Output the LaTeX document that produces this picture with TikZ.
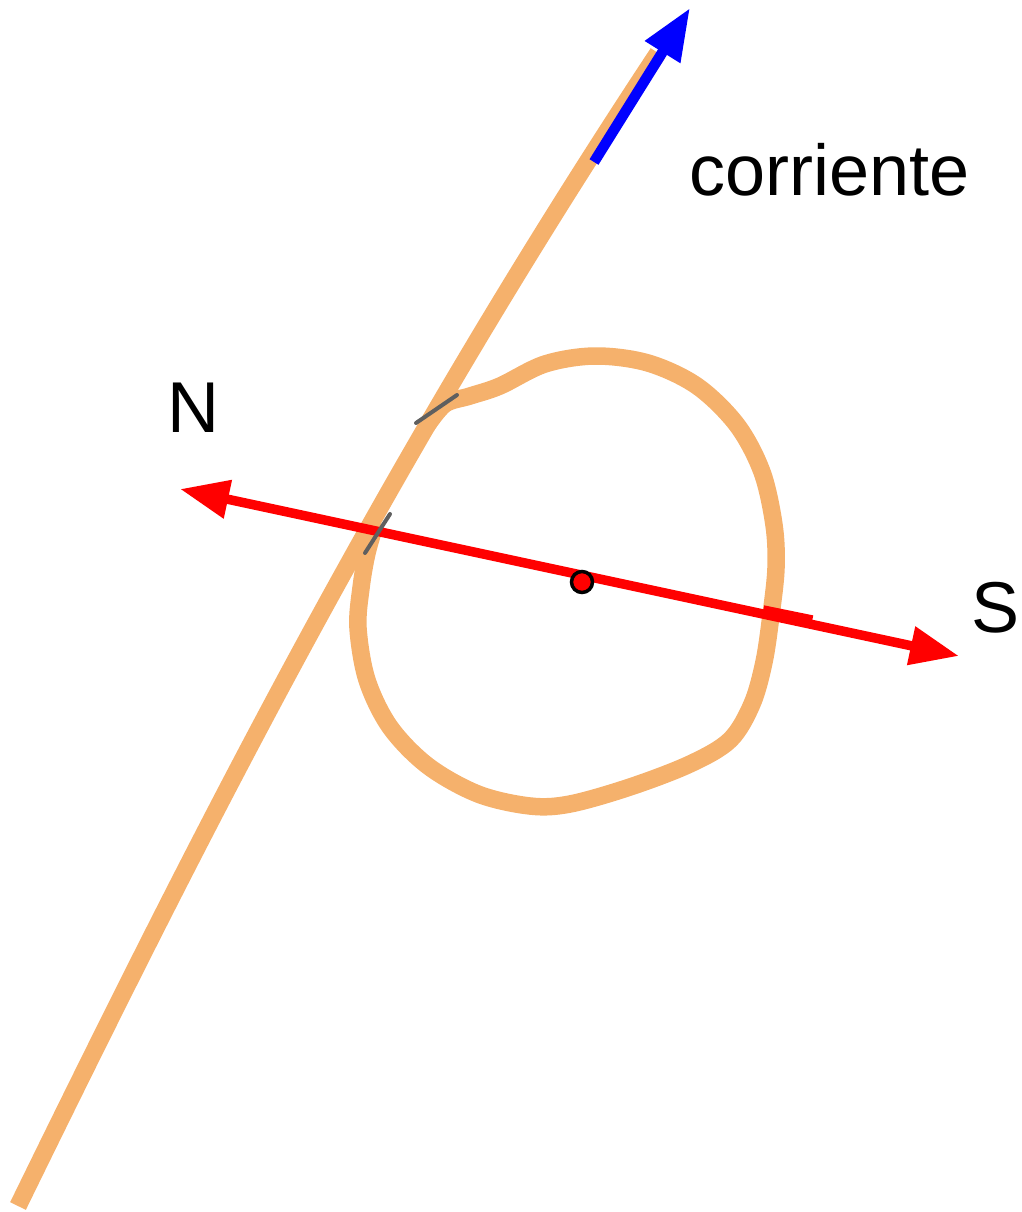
\documentclass[tikz,border=0pt]{standalone}
\usepackage{fontspec}
\setmainfont{Liberation Sans}
\usetikzlibrary{arrows.meta}
\definecolor{wireorange}{RGB}{245,177,108}
\definecolor{tickgray}{RGB}{95,95,95}
\tikzset{
  wire/.style={draw=wireorange,line width=17.5pt},
  axis/.style={draw=red,line width=9.5pt,{Triangle[length=49pt,width=37pt]}-{Triangle[length=49pt,width=37pt]}},
  current/.style={draw=blue,line width=10.5pt,-{Triangle[length=52pt,width=39pt]}},
  tickmark/.style={draw=tickgray,line width=4pt,line cap=round},
  label/.style={font=\fontsize{72}{80}\selectfont,inner sep=0pt,anchor=base}
}
\begin{document}
\begin{tikzpicture}[x=1pt,y=-1pt]
\useasboundingbox (0,0) rectangle (1021,1212);
% loop (the part shared with the wire is drawn by the wire)
\draw[wire] plot[smooth,tension=0.55] coordinates {
 (427,425.5) (445,404) (470,396) (500,386) (545,364) (595,356) (648,363) (697,386)
 (737,425) (762,472) (774,525) (776,568) (771,615) (764,662) (752,704)
 (730,740) (690,764) (630,787) (570,804) (530,806) (478,794) (428,766)
 (390,727) (367,680) (358,628) (361,588) (367,553) (376,522)};
% wire
\coordinate (wb) at (18,1206);
\coordinate (wt) at (658,53);
\draw[wire] (wb) .. controls (214,805) and (394,453) .. (wt);
% axis
\coordinate (N) at (180,489);
\coordinate (S) at (959,656);
\draw[axis] (N) -- (S);
\coordinate (r1) at (763,611.5);
\coordinate (r2) at (812,621.5);
\draw[draw=red,line width=12.5pt] (r1) -- (r2);
% ticks
\coordinate (t1a) at (416,423);
\coordinate (t1b) at (457,395);
\coordinate (t2a) at (365,553);
\coordinate (t2b) at (390,514);
\draw[tickmark] (t1a) -- (t1b);
\draw[tickmark] (t2a) -- (t2b);
% center dot
\node[circle,draw=black,fill=red,line width=3.5pt,minimum size=21pt,inner sep=0pt] (c) at (582,582) {};
% current arrow
\coordinate (bs) at (594,162);
\coordinate (bt) at (690,8);
\draw[current] (bs) -- (bt);
% labels
\node[label] (corr) at (830,195) {corriente};
\node[label] (nl) at (193,432) {N};
\node[label] (sl) at (995,632) {S};
\end{tikzpicture}
\end{document}
